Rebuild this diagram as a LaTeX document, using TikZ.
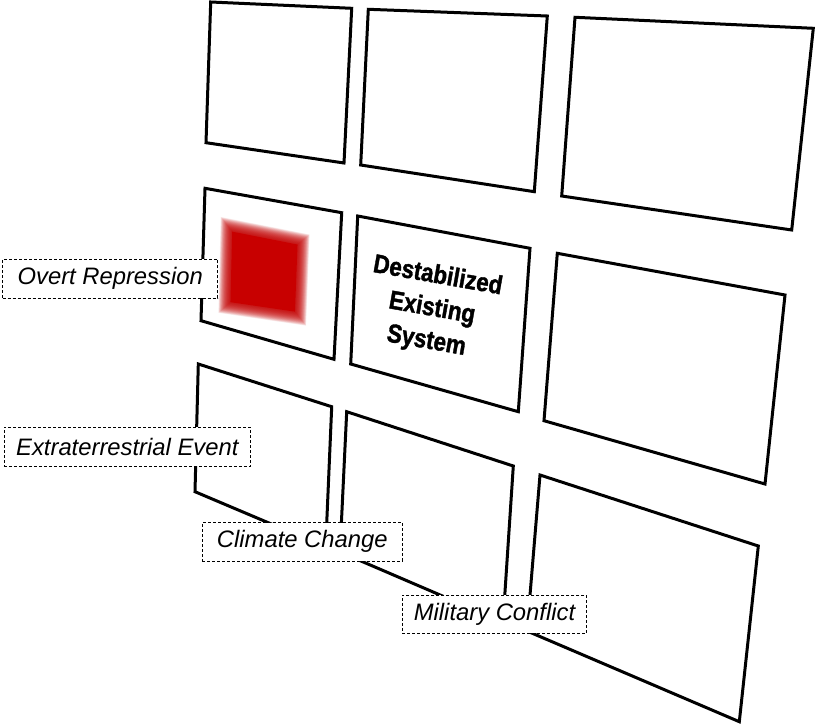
\documentclass[tikz,border=0pt]{standalone}
\usepackage{fontspec}
\setmainfont{Liberation Sans}
\newfontfamily\heavyfont[BoldFeatures={FakeBold=1.6}]{Liberation Sans}
\begin{document}
\begin{tikzpicture}[x=1pt,y=-1pt,
  panel/.style={draw=black,fill=white,line width=3pt,line join=miter},
  tag/.style={draw=black,fill=white,line width=0.8pt,dash pattern=on 3pt off 2pt,
    inner sep=0pt,font=\fontsize{23.8}{28}\selectfont\itshape},
  core/.style={font=\heavyfont\fontsize{26}{33}\selectfont\bfseries,align=center}]
\definecolor{redsq}{RGB}{200,0,0}
\useasboundingbox (0,0) rectangle (816,727);
% panels
\draw[panel] (210.7,2) -- (351.7,8.3) -- (344,163) -- (206,142.7) -- cycle;
\draw[panel] (368.3,9.3) -- (547.3,16) -- (534.3,191.7) -- (360.7,165) -- cycle;
\draw[panel] (575,17.3) -- (813.3,28.3) -- (791.7,230) -- (561.7,196) -- cycle;
\draw[panel] (205,188.3) -- (341.7,212.7) -- (334,359.3) -- (201,320.7) -- cycle;
\draw[panel] (357.7,216) -- (530,248.3) -- (518.3,411.7) -- (350.7,364) -- cycle;
\draw[panel] (557.3,253.3) -- (785,295) -- (765,484) -- (544,420.7) -- cycle;
\draw[panel] (198.3,364) -- (331.7,406.7) -- (325.7,547) -- (195,491.7) -- cycle;
\draw[panel] (346.7,411.7) -- (513.3,466) -- (503,622) -- (340,552) -- cycle;
\draw[panel] (540,475) -- (758.3,546) -- (739.3,721.7) -- (527,631) -- cycle;
% blurred red square
\foreach \s in {1.17,1.16,...,0.87}{
  \fill[redsq,opacity=0.065,shift={(264,272.5)},scale=\s]
    (-37,-47.5) -- (39,-32.5) -- (36,45.5) -- (-39,34.5) -- cycle;}
\fill[redsq,shift={(264,272.5)},scale=0.86]
    (-37,-47.5) -- (39,-32.5) -- (36,45.5) -- (-39,34.5) -- cycle;
% centre text
\node[core,rotate=-10,xscale=0.86] (des) at (432,309) {Destabilized\\Existing\\System};
% labels
\node[tag,minimum width=215pt,minimum height=39pt] (overt) at (110.2,278.8) {Overt Repression};
\node[tag,minimum width=246.7pt,minimum height=38.7pt] (extra) at (127.3,446.7) {Extraterrestrial Event};
\node[tag,minimum width=200pt,minimum height=38.3pt] (climate) at (302.3,541.8) {Climate Change};
\node[tag,minimum width=184.4pt,minimum height=38.3pt] (military) at (494.5,614.2) {Military Conflict};
\end{tikzpicture}
\end{document}
